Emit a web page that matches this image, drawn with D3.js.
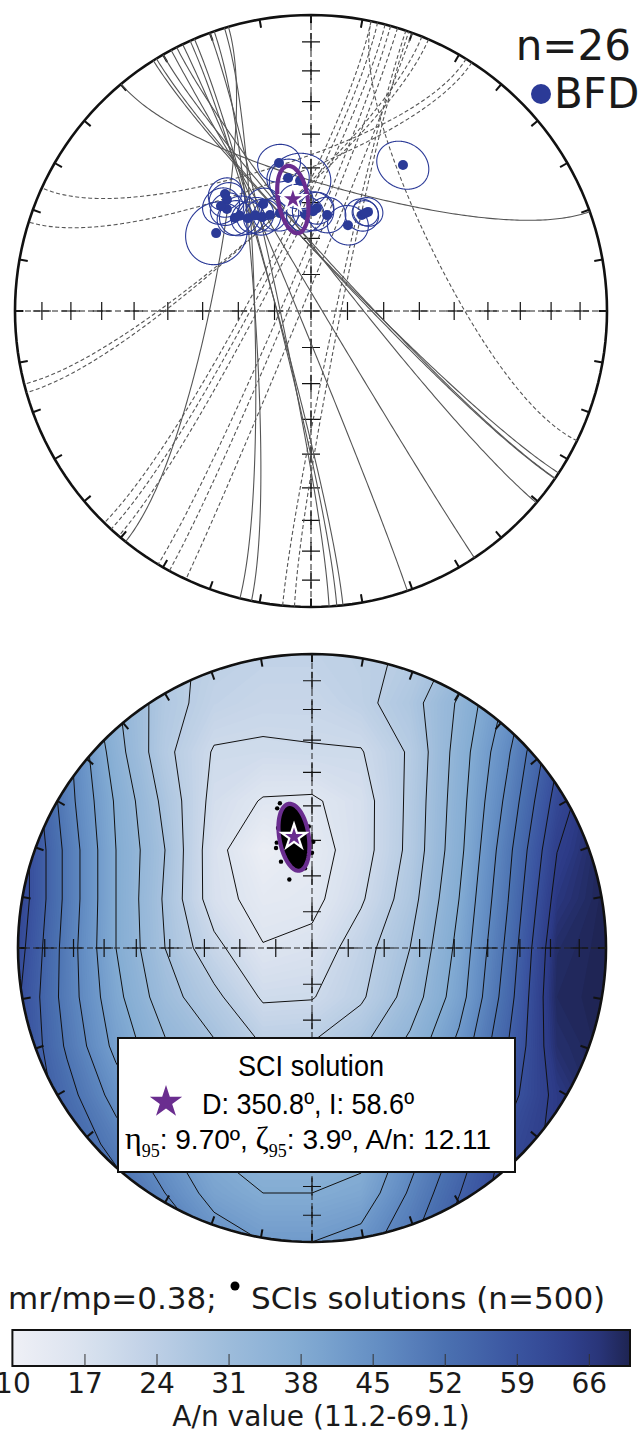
<!DOCTYPE html>
<html>
<head>
<meta charset="utf-8">
<script src="https://cdn.jsdelivr.net/npm/d3@7"></script>
<style>
  body { margin: 0; background: #fff; }
  svg { display: block; }
</style>
</head>
<body>
<div id="container"></div>
<script>
// ---------------- data ----------------

// best fit directions (BFD) per site: declination, inclination, a95
var bfdDec = [347.8, 32.2, 323.7, 322.9, 320.5, 320.7, 325.8, 309.4, 335.9, 332.5, 336.9, 342.4, 350.2,
              355.2, 3.3, 1.2, 9.5, 23.3, 27.9, 29.9, 29.0, 329.7, 352.3, 356.5, 319.4, 323.2];
var bfdInc = [47.6, 41.3, 49.4, 51.1, 53.2, 56.6, 58.9, 55.9, 57.5, 60.7, 61.1, 61.6, 52.4,
              53.6, 61.5, 62.4, 63.1, 64.2, 59.9, 58.3, 59.0, 59.3, 59.0, 63.2, 51.4, 57.0];
var bfdA95 = [5.5, 6.8, 4.5, 4.8, 4.5, 4.8, 4.5, 8.5, 4.5, 5.0, 4.5, 5.0, 5.5,
              8.0, 4.5, 5.5, 5.0, 5.5, 4.5, 4.0, 3.5, 5.0, 4.5, 5.0, 5.0, 5.5];

// small circles (horizontal axis trend, aperture), solid ones first, then dashed ones
var scAxis   = [15.25, 45.5, 46.5, 47.2, 51.7, 59.15, 247.65, 254.85, 255.9, 258.25, 266.25, 268.45, 281.3,
                343.1, 340.2, 319.55, 318.0, 298.0, 297.75, 297.5, 293.35, 292.8, 292.5, 102.1, 101.25, 63.85];
var scRadius = [55.15, 77.7, 78.0, 77.2, 78.7, 87.35, 86.65, 81.05, 80.9, 81.75, 74.65, 74.55, 62.5,
                48.5, 52.7, 63.85, 64.0, 73.7, 75.25, 77.0, 82.25, 84.2, 87.5, 83.4, 81.95, 52.15];
var scDashed = [0, 0, 0, 0, 0, 0, 0, 0, 0, 0, 0, 0, 0,
                1, 1, 1, 1, 1, 1, 1, 1, 1, 1, 1, 1, 1];

// SCI solution
var sciDec = 350.8, sciInc = 58.6, sciEta = 9.70, sciZeta = 3.9, sciAn = 12.11;

// a few of the 500 SCI solutions lying outside the dense cloud
var solDec = [347.5, 346.0, 340.2, 0.7, 0.0, 355.0, 341.7, 340.25, 341.5, 355.0, 358.5, 344.2, 355.0];
var solInc = [48.2, 49.5, 60.4, 60.4, 63.5, 67.8, 70.0, 64.5, 59.0, 51.7, 56.0, 55.1, 64.9];

// A/n values on a 13 x 13 grid over the net (rows north -> south, columns west -> east)
var anGrid = [
  [55.7, 43.0, 32.8, 25.8, 23.7, 22.9, 22.9, 23.7, 25.2, 30.3, 37.9, 49.3, 62.1],
  [57.0, 44.3, 34.1, 26.5, 22.6, 21.4, 21.4, 23.3, 27.1, 34.1, 43.6, 55.7, 69.0],
  [62.1, 48.1, 35.4, 25.8, 19.7, 19.5, 19.8, 19.8, 25.2, 35.4, 46.2, 59.5, 70.0],
  [62.1, 48.7, 37.3, 27.7, 18.6, 15.3, 15.0, 18.0, 25.6, 36.0, 48.1, 62.1, 70.0],
  [63.3, 50.0, 37.9, 29.0, 17.3, 11.3, 13.5, 18.0, 25.8, 36.6, 50.0, 64.6, 70.0],
  [63.3, 50.0, 37.9, 28.4, 17.6, 13.7, 14.3, 19.5, 27.1, 37.9, 51.2, 66.5, 70.0],
  [62.1, 49.3, 37.9, 29.0, 21.4, 15.9, 17.0, 22.6, 29.0, 39.2, 52.5, 68.4, 70.0],
  [60.8, 49.3, 39.2, 30.9, 25.8, 19.5, 19.8, 23.9, 30.9, 40.4, 53.8, 69.0, 70.0],
  [60.8, 50.6, 41.1, 34.1, 29.6, 24.5, 25.0, 28.4, 34.7, 43.6, 55.7, 68.0, 70.0],
  [60.8, 53.2, 44.9, 38.5, 33.5, 30.3, 30.3, 33.5, 39.8, 48.1, 58.5, 66.0, 70.0],
  [62.1, 55.7, 49.3, 43.0, 37.3, 34.7, 34.7, 36.0, 44.3, 52.5, 61.5, 66.0, 69.5],
  [64.6, 59.5, 53.8, 46.8, 40.4, 37.9, 37.9, 39.2, 47.4, 55.5, 63.0, 67.0, 69.0],
  [68.4, 63.3, 58.3, 51.9, 45.5, 42.4, 42.4, 44.3, 50.6, 58.5, 65.0, 68.0, 69.0]
];
var contourLevels = [15.65, 20.1, 24.6, 29.0, 33.5, 37.9, 42.4, 46.8, 51.3, 55.7, 60.2, 64.7];

// colour bar
var cbDomain = [10, 70];
var cbTicks = [10, 17, 24, 31, 38, 45, 52, 59, 66];

(function () {
	var width = 643, height = 1431;
	var net1 = {cx: 311, cy: 311, r: 296},
		net2 = {cx: 312, cy: 948, r: 294};

	var grey = "#555", blue = "#2b3a97", purple = "#6a2d8f";
	var rad = Math.PI / 180;

	// colormap sampled from the colour bar (light grey-blue to navy)
	var color = d3.scaleLinear()
		.domain([10, 17, 24, 31, 38, 45, 52, 59, 66, 70])
		.range(["#eff0f6", "#dae2ef", "#bccfe5", "#9dbcdb", "#83acd3", "#6690c5", "#4b71b1", "#3a54a0", "#2c3a86", "#1e2452"])
		.clamp(true);

	var svg = d3.select("#container").append("svg")
		.attr("width", width)
		.attr("height", height);
	var defs = svg.append("defs");

	// dec/inc -> lon/lat for a lower hemisphere net (north up, east right)
	function toGeo(dec, inc) { return [180 - dec, inc]; }

	function makeProj(net) {
		return d3.geoAzimuthalEqualArea()
			.rotate([0, -90])
			.scale(net.r / Math.SQRT2)
			.translate([net.cx, net.cy])
			.clipAngle(90)
			.precision(0.1);
	}

	// confidence ellipse around a direction (eta along inclination, zeta across)
	function ellipseRing(dec, inc, eta, zeta) {
		var D = dec * rad, I = inc * rad;
		var m = [Math.cos(I) * Math.cos(D), Math.cos(I) * Math.sin(D), Math.sin(I)];
		var e1 = [-Math.sin(I) * Math.cos(D), -Math.sin(I) * Math.sin(D), Math.cos(I)];
		var e2 = [m[1] * e1[2] - m[2] * e1[1], m[2] * e1[0] - m[0] * e1[2], m[0] * e1[1] - m[1] * e1[0]];
		return d3.range(0, 360, 3).map(function (psi) {
			var p = psi * rad;
			var rho = eta * zeta / Math.sqrt(Math.pow(zeta * Math.cos(p), 2) + Math.pow(eta * Math.sin(p), 2)) * rad;
			var v = [0, 1, 2].map(function (k) {
				return Math.cos(rho) * m[k] + Math.sin(rho) * (Math.cos(p) * e1[k] + Math.sin(p) * e2[k]);
			});
			return toGeo(Math.atan2(v[1], v[0]) / rad, Math.asin(v[2]) / rad);
		});
	}

	// primitive, 10 degree ticks, dashed axes and crosses
	function drawFrame(g, proj) {
		var path = d3.geoPath(proj);
		g.append("path")
			.datum({type: "Sphere"})
			.attr("d", path)
			.attr("fill", "none")
			.attr("stroke", "#111")
			.attr("stroke-width", 2.6);

		g.selectAll(".tick10")
			.data(d3.range(0, 360, 10))
			.enter().append("line")
				.attr("class", "tick10")
				.attr("x1", function (d) { return proj(toGeo(d, 0))[0]; })
				.attr("y1", function (d) { return proj(toGeo(d, 0))[1]; })
				.attr("x2", function (d) { return proj(toGeo(d, 3.2))[0]; })
				.attr("y2", function (d) { return proj(toGeo(d, 3.2))[1]; })
				.attr("stroke", "#111")
				.attr("stroke-width", 2);

		[[0, 180], [90, 270]].forEach(function (ax) {
			var a = proj(toGeo(ax[0], 0)), b = proj(toGeo(ax[1], 0));
			g.append("line")
				.attr("x1", a[0]).attr("y1", a[1])
				.attr("x2", b[0]).attr("y2", b[1])
				.attr("stroke", "#222")
				.attr("stroke-width", 1)
				.attr("stroke-dasharray", "6,3");
		});

		var crosses = [[0, 90]];
		[0, 90, 180, 270].forEach(function (d) {
			d3.range(10, 90, 10).forEach(function (i) { crosses.push([d, i]); });
		});
		g.selectAll(".cross")
			.data(crosses)
			.enter().append("path")
				.attr("class", "cross")
				.attr("d", function (d) {
					var p = proj(toGeo(d[0], d[1])), s = 9;
					return "M" + (p[0] - s) + "," + p[1] + "H" + (p[0] + s) + "M" + p[0] + "," + (p[1] - s) + "V" + (p[1] + s);
				})
				.attr("stroke", "#111")
				.attr("stroke-width", 1.2)
				.attr("fill", "none");
	}

	function drawStar(g, p, r, fill, stroke) {
		g.append("path")
			.attr("d", d3.symbol(d3.symbolStar, r * r / 0.8908)())
			.attr("transform", "translate(" + p[0] + "," + p[1] + ")")
			.attr("fill", fill)
			.attr("stroke", stroke || "none")
			.attr("stroke-width", stroke ? 2.2 : 0);
	}

	// ================= top net: small circles and BFDs =================
	var proj1 = makeProj(net1), path1 = d3.geoPath(proj1);
	var g1 = svg.append("g");
	drawFrame(g1, proj1);

	var circleGen = d3.geoCircle().precision(1);
	g1.selectAll(".sc")
		.data(scAxis)
		.enter().append("path")
			.attr("class", "sc")
			.attr("d", function (t, i) {
				var ring = circleGen.center(toGeo(t, 0)).radius(scRadius[i])().coordinates[0];
				return path1({type: "LineString", coordinates: ring});
			})
			.attr("fill", "none")
			.attr("stroke", grey)
			.attr("stroke-width", 1.1)
			.attr("stroke-dasharray", function (t, i) { return scDashed[i] ? "4,2.5" : null; });

	g1.selectAll(".a95")
		.data(bfdDec)
		.enter().append("path")
			.attr("class", "a95")
			.attr("d", function (d, i) {
				var ring = circleGen.center(toGeo(d, bfdInc[i])).radius(bfdA95[i])().coordinates[0];
				return path1({type: "LineString", coordinates: ring});
			})
			.attr("fill", "none")
			.attr("stroke", blue)
			.attr("stroke-width", 1.1);

	g1.selectAll(".bfd")
		.data(bfdDec)
		.enter().append("circle")
			.attr("class", "bfd")
			.attr("cx", function (d, i) { return proj1(toGeo(d, bfdInc[i]))[0]; })
			.attr("cy", function (d, i) { return proj1(toGeo(d, bfdInc[i]))[1]; })
			.attr("r", 5)
			.attr("fill", blue);

	var line = d3.line().curve(d3.curveLinearClosed);
	g1.append("path").attr("d", line(ellipseRing(sciDec, sciInc, sciEta, sciZeta).map(proj1)))
		.attr("fill", "none").attr("stroke", purple).attr("stroke-width", 4.2);
	drawStar(g1, proj1(toGeo(sciDec, sciInc)), 13, purple, "#fff");

	svg.append("text")
		.attr("x", 631).attr("y", 60)
		.attr("text-anchor", "end")
		.style("font-family", "DejaVu Sans")
		.style("font-size", "42px")
		.attr("fill", "#1a1a1a")
		.text("n=" + bfdDec.length);
	svg.append("circle").attr("cx", 541).attr("cy", 94).attr("r", 10).attr("fill", blue);
	svg.append("text")
		.attr("x", 554).attr("y", 108)
		.style("font-family", "DejaVu Sans")
		.style("font-size", "42px")
		.attr("fill", "#1a1a1a")
		.text("BFD");

	// ================= bottom net: A/n contour map =================
	var proj2 = makeProj(net2);
	var g2 = svg.append("g");

	defs.append("clipPath").attr("id", "disk2")
		.append("circle").attr("cx", net2.cx).attr("cy", net2.cy).attr("r", net2.r);

	var nx = anGrid[0].length, ny = anGrid.length;
	var values = [].concat.apply([], anGrid);
	var gridToPx = d3.geoTransform({
		point: function (x, y) {
			this.stream.point(net2.cx + net2.r * (-1 + (x - 0.5) * 2 / (nx - 1)),
				net2.cy + net2.r * (-1 + (y - 0.5) * 2 / (ny - 1)));
		}
	});
	var gpath = d3.geoPath(gridToPx);

	var fieldG = g2.append("g").attr("clip-path", "url(#disk2)");
	var bands = d3.contours().size([nx, ny]).thresholds(d3.range(cbDomain[0], cbDomain[1], 0.5))(values);
	fieldG.selectAll(".band")
		.data(bands)
		.enter().append("path")
			.attr("class", "band")
			.attr("d", gpath)
			.attr("fill", function (d) { return color(d.value + 0.25); });

	var isolines = d3.contours().size([nx, ny]).thresholds(contourLevels)(values);
	fieldG.selectAll(".iso")
		.data(isolines)
		.enter().append("path")
			.attr("class", "iso")
			.attr("d", gpath)
			.attr("fill", "none")
			.attr("stroke", "#111")
			.attr("stroke-width", 1);

	drawFrame(g2, proj2);

	// SCI solutions: dense cloud + scattered ones
	g2.append("path").attr("d", line(ellipseRing(sciDec, sciInc, sciEta * 0.96, sciZeta * 0.96).map(proj2)))
		.attr("fill", "#000");
	g2.selectAll(".sol")
		.data(solDec)
		.enter().append("circle")
			.attr("class", "sol")
			.attr("cx", function (d, i) { return proj2(toGeo(d, solInc[i]))[0]; })
			.attr("cy", function (d, i) { return proj2(toGeo(d, solInc[i]))[1]; })
			.attr("r", 2.2)
			.attr("fill", "#000");
	g2.append("path").attr("d", line(ellipseRing(sciDec, sciInc, sciEta, sciZeta).map(proj2)))
		.attr("fill", "none").attr("stroke", purple).attr("stroke-width", 4.2);
	drawStar(g2, proj2(toGeo(sciDec, sciInc)), 13, purple, "#fff");

	// legend box
	var box = svg.append("g");
	box.append("rect")
		.attr("x", 118).attr("y", 1038).attr("width", 397).attr("height", 134)
		.attr("fill", "#fff").attr("stroke", "#111").attr("stroke-width", 2);
	var sans = "Liberation Sans, Arial, sans-serif", serif = "Liberation Serif, Times New Roman, serif";
	box.append("text")
		.attr("x", 238).attr("y", 1076)
		.attr("textLength", 146).attr("lengthAdjust", "spacingAndGlyphs")
		.style("font-family", sans).style("font-size", "30px")
		.text("SCI solution");
	drawStar(box, [166, 1102], 17, purple);
	box.append("text")
		.attr("x", 202).attr("y", 1114)
		.attr("textLength", 212).attr("lengthAdjust", "spacingAndGlyphs")
		.style("font-family", sans).style("font-size", "30px")
		.text("D: " + sciDec.toFixed(1) + "\u00BA, I: " + sciInc.toFixed(1) + "\u00BA");
	var l3 = box.append("text")
		.attr("x", 125).attr("y", 1149)
		.style("font-family", sans).style("font-size", "28px");
	l3.append("tspan").style("font-family", serif).style("font-size", "32px").text("\u03B7");
	l3.append("tspan").attr("dy", 8).style("font-family", serif).style("font-size", "18px").text("95");
	l3.append("tspan").attr("dy", -8).text(": " + sciEta.toFixed(2) + "\u00BA, ");
	l3.append("tspan").style("font-family", serif).style("font-size", "32px").text("\u03B6");
	l3.append("tspan").attr("dy", 8).style("font-family", serif).style("font-size", "18px").text("95");
	l3.append("tspan").attr("dy", -8).text(": " + sciZeta.toFixed(1) + "\u00BA, A/n: " + sciAn.toFixed(2));

	// ================= caption and colour bar =================
	svg.append("text")
		.attr("x", 8).attr("y", 1309)
		.style("font-family", "DejaVu Sans").style("font-size", "31px").attr("fill", "#1a1a1a")
		.text("mr/mp=0.38;");
	svg.append("circle").attr("cx", 235).attr("cy", 1286).attr("r", 4.5).attr("fill", "#000");
	svg.append("text")
		.attr("x", 251).attr("y", 1309)
		.style("font-family", "DejaVu Sans").style("font-size", "31px").attr("fill", "#1a1a1a")
		.text("SCIs solutions (n=500)");

	var cbX = d3.scaleLinear().domain(cbDomain).range([12.4, 630]);
	var cbY = 1330, cbH = 36;
	var grad = defs.append("linearGradient").attr("id", "cbgrad");
	grad.selectAll("stop")
		.data(d3.range(0, 1.0001, 0.05))
		.enter().append("stop")
			.attr("offset", function (d) { return d; })
			.attr("stop-color", function (d) { return color(cbDomain[0] + d * (cbDomain[1] - cbDomain[0])); });
	svg.append("rect")
		.attr("x", cbX(cbDomain[0])).attr("y", cbY)
		.attr("width", cbX(cbDomain[1]) - cbX(cbDomain[0])).attr("height", cbH)
		.attr("fill", "url(#cbgrad)").attr("stroke", "#111").attr("stroke-width", 2);

	var cbAxis = d3.axisBottom(cbX).tickValues(cbTicks).tickSize(0).tickPadding(0);
	var axG = svg.append("g")
		.attr("transform", "translate(0," + (cbY + cbH) + ")")
		.call(cbAxis);
	axG.select(".domain").remove();
	axG.selectAll(".tick line").remove();
	axG.selectAll(".tick").filter(function (d) { return d > cbDomain[0]; })
		.append("line").attr("y1", -12).attr("y2", 0).attr("stroke", "#333").attr("stroke-width", 1);
	axG.selectAll(".tick text")
		.attr("y", 27).attr("dy", 0)
		.style("font-family", "DejaVu Sans").style("font-size", "28px").attr("fill", "#1a1a1a");

	svg.append("text")
		.attr("x", 321).attr("y", 1426)
		.attr("text-anchor", "middle")
		.style("font-family", "DejaVu Sans").style("font-size", "28px").attr("fill", "#1a1a1a")
		.text("A/n value (11.2-69.1)");
})();
</script>
</body>
</html>
